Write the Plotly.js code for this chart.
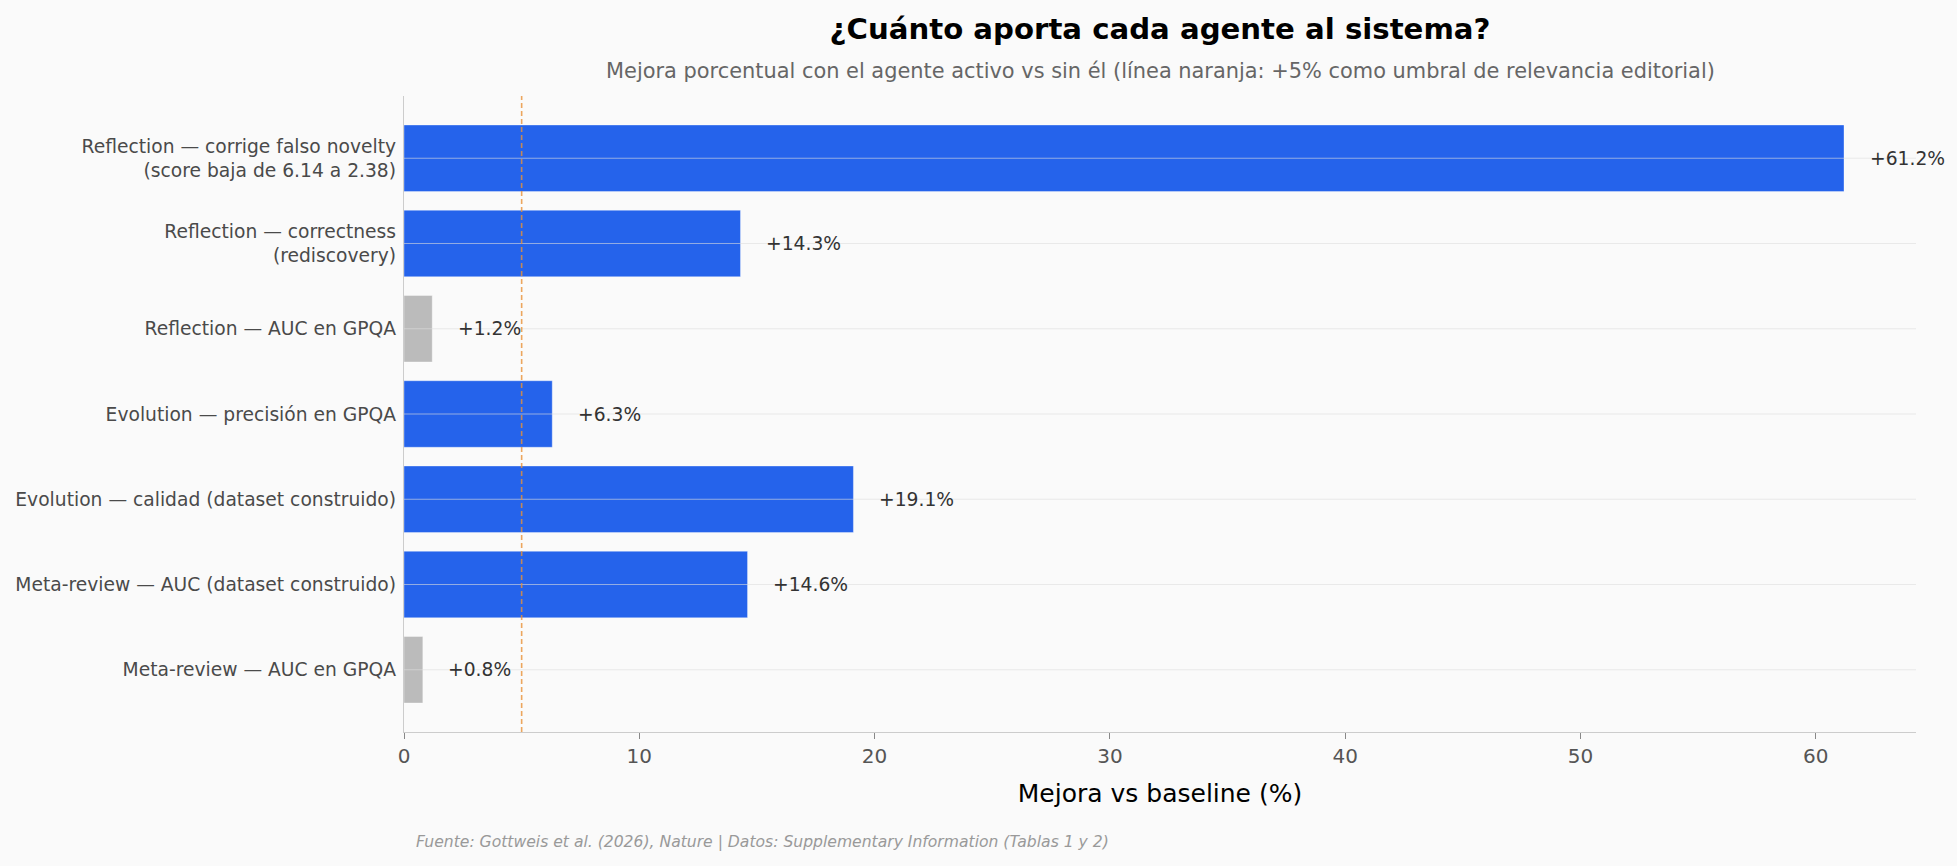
<!DOCTYPE html>
<html>
<head>
<meta charset="utf-8">
<script src="https://cdn.plot.ly/plotly-3.0.1.min.js"></script>
<style>
  html, body { margin: 0; padding: 0; background: #FAFAFA; }
  #chart { width: 1957px; height: 866px; }
</style>
</head>
<body>
<div id="chart"></div>
<script>
// Agent ablation: % improvement with each agent active vs. removed
const categories = [
  'Reflection — corrige falso novelty<br>(score baja de 6.14 a 2.38)',
  'Reflection — correctness<br>(rediscovery)',
  'Reflection — AUC en GPQA',
  'Evolution — precisión en GPQA',
  'Evolution — calidad (dataset construido)',
  'Meta-review — AUC (dataset construido)',
  'Meta-review — AUC en GPQA'
];
const improvement = [61.2, 14.3, 1.2, 6.3, 19.1, 14.6, 0.8];
const threshold = 5;
const xTicks = [0, 10, 20, 30, 40, 50, 60];

const BLUE = '#2563EB';
const GREY = '#BBBBBB';
const FONT = 'DejaVu Sans, Verdana, sans-serif';

const barColors = improvement.map(v => (v >= threshold ? BLUE : GREY));

const bars = {
  type: 'bar',
  orientation: 'h',
  y: categories,
  x: improvement,
  width: 0.78,
  marker: {
    color: barColors,
    line: { color: 'rgba(255,255,255,0.35)', width: 1 }
  },
  hoverinfo: 'skip',
  showlegend: false
};

// Value labels placed just past the end of each bar
const valueLabels = improvement.map((v, i) => ({
  xref: 'x', yref: 'y',
  x: v + 1, y: categories[i],
  text: '+' + v.toFixed(1) + '%',
  showarrow: false,
  xanchor: 'left', yanchor: 'middle',
  font: { family: FONT, size: 18.7, color: '#333333' }
}));

// Horizontal guide lines drawn on top of the bars
const gridLines = categories.map(c => ({
  type: 'line', layer: 'above',
  xref: 'paper', yref: 'y',
  x0: 0, x1: 1, y0: c, y1: c,
  line: { color: 'rgba(221,221,221,0.6)', width: 1 }
}));

const thresholdLine = {
  type: 'line', layer: 'above',
  xref: 'x', yref: 'paper',
  x0: threshold, x1: threshold, y0: 0, y1: 1,
  line: { color: 'rgba(232,145,55,0.8)', width: 1.6, dash: '5px,3px' }
};

const layout = {
  width: 1957, height: 866,
  paper_bgcolor: '#FAFAFA',
  plot_bgcolor: '#FAFAFA',
  margin: { l: 404, r: 41, t: 96, b: 134 },
  font: { family: FONT, color: '#444444' },
  title: {
    text: '¿Cuánto aporta cada agente al sistema?',
    font: { family: FONT, size: 29.2, color: '#000000', weight: 'bold' },
    xref: 'paper', x: 0.5, xanchor: 'center',
    yref: 'container', y: 1 - 29 / 866, yanchor: 'middle'
  },
  xaxis: {
    range: [0, 64.26],
    tickvals: xTicks,
    ticktext: xTicks.map(String),
    ticks: 'outside', ticklen: 6, tickwidth: 1, tickcolor: '#888888',
    tickfont: { family: FONT, size: 20, color: '#555555' },
    showgrid: false, zeroline: false,
    showline: true, linecolor: '#CCCCCC', linewidth: 1.2,
    title: {
      text: 'Mejora vs baseline (%)',
      font: { family: FONT, size: 25, color: '#000000' },
      standoff: 17
    },
    fixedrange: true
  },
  yaxis: {
    type: 'category',
    categoryarray: categories,
    range: [6.73, -0.73],
    ticks: '', ticklabelstandoff: 3,
    tickfont: { family: FONT, size: 18.7, color: '#4a4a4a' },
    showgrid: false, zeroline: false,
    showline: true, linecolor: '#CCCCCC', linewidth: 1.2,
    fixedrange: true
  },
  shapes: gridLines.concat([thresholdLine]),
  annotations: valueLabels.concat([
    {
      xref: 'paper', yref: 'paper',
      x: 0.5, y: (866 - 71 - 134) / 636,
      text: 'Mejora porcentual con el agente activo vs sin él (línea naranja: +5% como umbral de relevancia editorial)',
      showarrow: false, xanchor: 'center', yanchor: 'middle',
      font: { family: FONT, size: 20.9, color: '#666666' }
    },
    {
      xref: 'paper', yref: 'paper',
      x: 10 / 1512, y: -110 / 636,
      text: '<i>Fuente: Gottweis et al. (2026), Nature | Datos: Supplementary Information (Tablas 1 y 2)</i>',
      showarrow: false, xanchor: 'left', yanchor: 'middle',
      font: { family: FONT, size: 15.6, color: '#999999' }
    }
  ]),
  bargap: 0.2
};

Plotly.newPlot('chart', [bars], layout, { displayModeBar: false, staticPlot: true });
</script>
</body>
</html>
